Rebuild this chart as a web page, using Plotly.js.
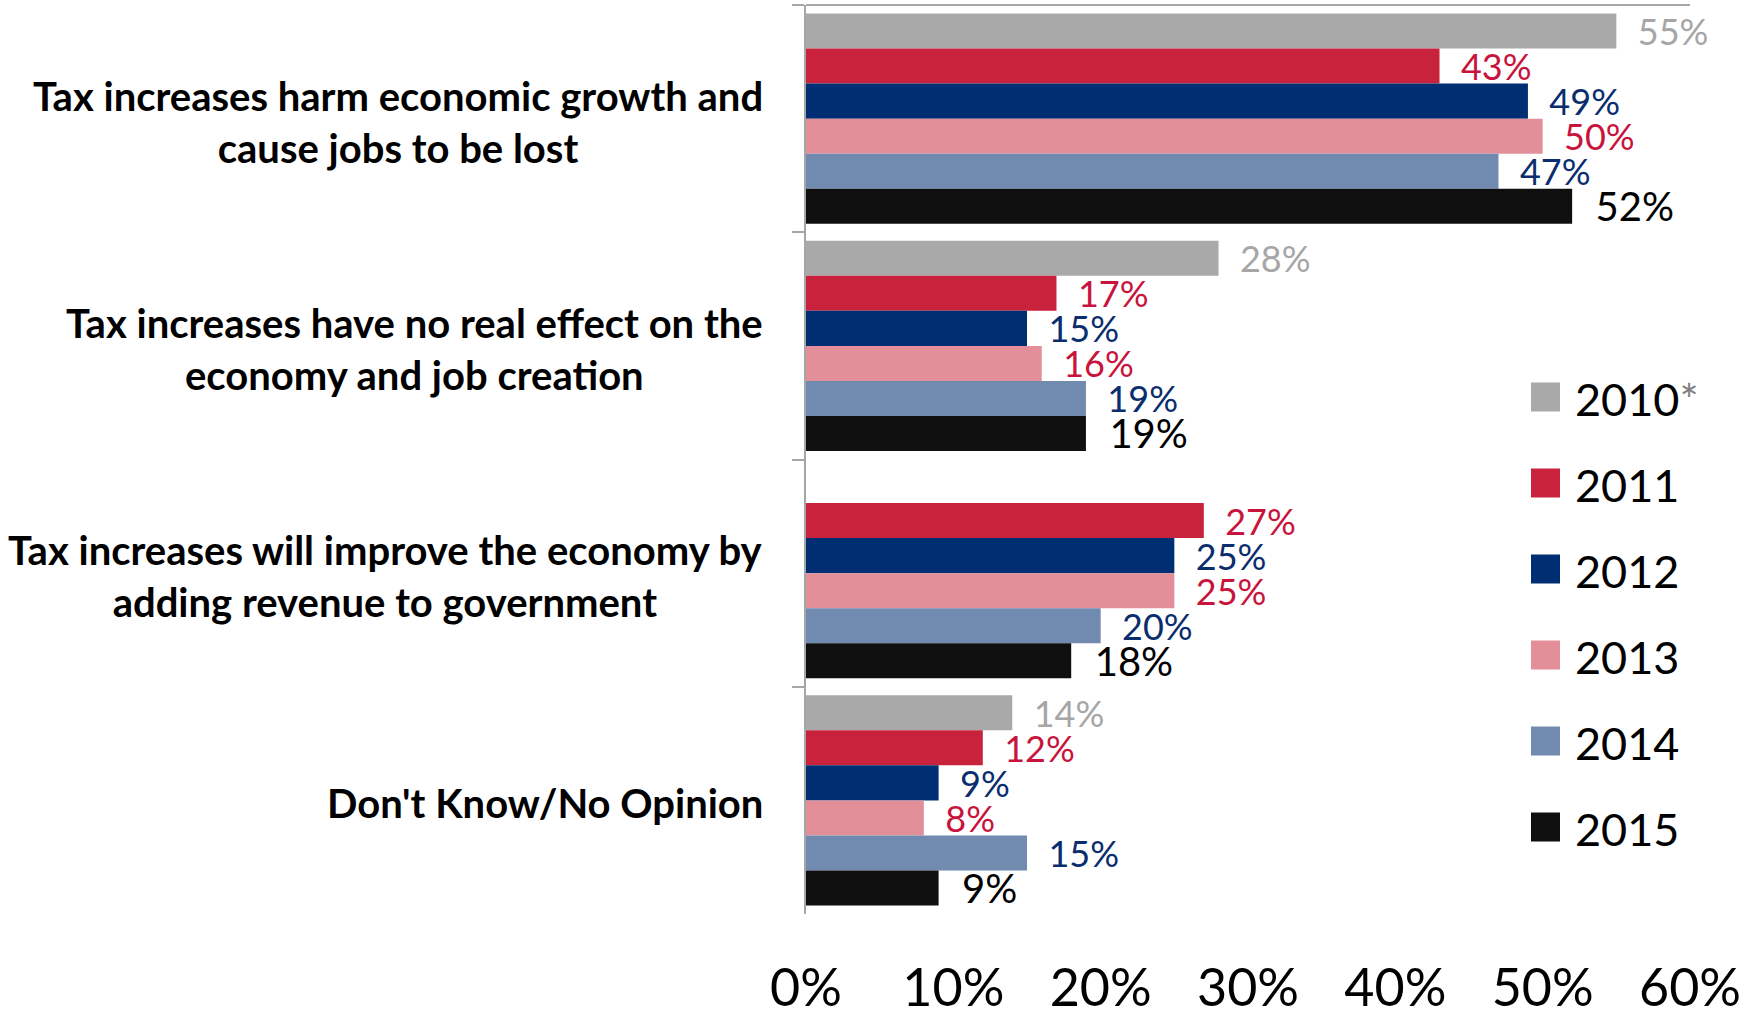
<!DOCTYPE html>
<html>
<head>
<meta charset="utf-8">
<script src="https://cdn.plot.ly/plotly-3.0.1.min.js"></script>
<style>html,body{margin:0;padding:0;background:#fff;}#chart{width:1743px;height:1019px;}</style>
</head>
<body>
<div id="chart"></div>
<script>
// ---- data ----
const categories = [
  "Tax increases harm economic growth and<br>cause jobs to be lost",
  "Tax increases have no real effect on the<br>economy and job creation",
  "Tax increases will improve the economy by<br>adding revenue to government",
  "Don't Know/No Opinion"
];
const years = ["2010", "2011", "2012", "2013", "2014", "2015"];
const v2010 = [55, 28, null, 14];
const v2011 = [43, 17, 27, 12];
const v2012 = [49, 15, 25, 9];
const v2013 = [50, 16, 25, 8];
const v2014 = [47, 19, 20, 15];
const v2015 = [52, 19, 18, 9];
const tickValues = [0, 10, 20, 30, 40, 50, 60];
const tickLabels = ["0%", "10%", "20%", "30%", "40%", "50%", "60%"];

// ---- styles ----
const seriesValues = [v2010, v2011, v2012, v2013, v2014, v2015];
const barColors = ["#a9a9a9", "#c8223c", "#002e72", "#e28f9a", "#718aaf", "#0f0f0f"];
const labelColors = ["#a6a6a6", "#c8143c", "#0a2d6e", "#c8143c", "#0a2d6e", "#000000"];
const labelSizes = [36, 36, 36, 36, 36, 40];
const FONT = "Lato, 'Open Sans', sans-serif";

const W = 1743, H = 1019;
const M = {l: 806, r: 53, t: 5, b: 105};
const plotW = W - M.l - M.r, plotH = H - M.t - M.b;
const px2x = px => (px - M.l) / plotW;
const py2y = py => 1 - (py - M.t) / plotH;

const traces = years.map((yr, i) => ({
  type: "bar",
  orientation: "h",
  name: yr,
  y: categories,
  x: seriesValues[i],
  marker: {color: barColors[i]},
  text: seriesValues[i].map(v => v === null ? "" : "\u00a0\u00a0" + v + "%"),
  texttemplate: "%{text}",
  textposition: "outside",
  constraintext: "none",
  cliponaxis: false,
  textfont: {family: FONT, size: labelSizes[i], color: labelColors[i]},
  hoverinfo: "skip",
  showlegend: false
}));

const shapes = [
  {type: "line", xref: "paper", yref: "paper", x0: 0, x1: 1, y0: 1, y1: 1,
   line: {color: "#a6a6a6", width: 2}}
];
const annotations = [];

// category labels (centered multi-line blocks)
categories.forEach(c => {
  annotations.push({
    xref: "paper", yref: "y", x: 0, y: c, xanchor: "right", yanchor: "middle",
    xshift: -41, yshift: -3, align: "center", showarrow: false, text: c,
    font: {family: FONT, size: 40, color: "#000", weight: "bold"}
  });
});

// legend
const legTop = 397, legStep = 86;
years.forEach((yr, i) => {
  const cy = legTop + legStep * i;
  shapes.push({
    type: "rect", xref: "paper", yref: "paper",
    x0: px2x(1531), x1: px2x(1560), y0: py2y(cy - 14.5), y1: py2y(cy + 14.5),
    fillcolor: barColors[i], line: {width: 0}
  });
  annotations.push({
    xref: "paper", yref: "paper", x: px2x(1573), y: py2y(cy + 2),
    xanchor: "left", yanchor: "middle", showarrow: false,
    text: i === 0 ? yr + "<span style='color:#7f7f7f'>*</span>" : yr,
    font: {family: FONT, size: 45, color: "#000"}
  });
});

const layout = {
  width: W, height: H,
  margin: M,
  paper_bgcolor: "#fff", plot_bgcolor: "#fff",
  barmode: "group", bargap: 0.075, bargroupgap: 0,
  showlegend: false,
  font: {family: FONT, color: "#000"},
  xaxis: {
    range: [0, 60], tickmode: "array", tickvals: tickValues, ticktext: tickLabels,
    showgrid: false, zeroline: false, showline: false, ticks: "",
    tickfont: {family: FONT, size: 52, color: "#000"},
    ticklabelstandoff: 39
  },
  yaxis: {
    type: "category", range: [3.5, -0.5],
    showgrid: false, zeroline: false, showticklabels: false,
    showline: true, linecolor: "#a6a6a6", linewidth: 2,
    ticks: "outside", tickson: "boundaries", ticklen: 12, tickcolor: "#a6a6a6", tickwidth: 2
  },
  shapes: shapes,
  annotations: annotations
};

Plotly.newPlot("chart", traces, layout, {displayModeBar: false, staticPlot: true});
</script>
</body>
</html>
